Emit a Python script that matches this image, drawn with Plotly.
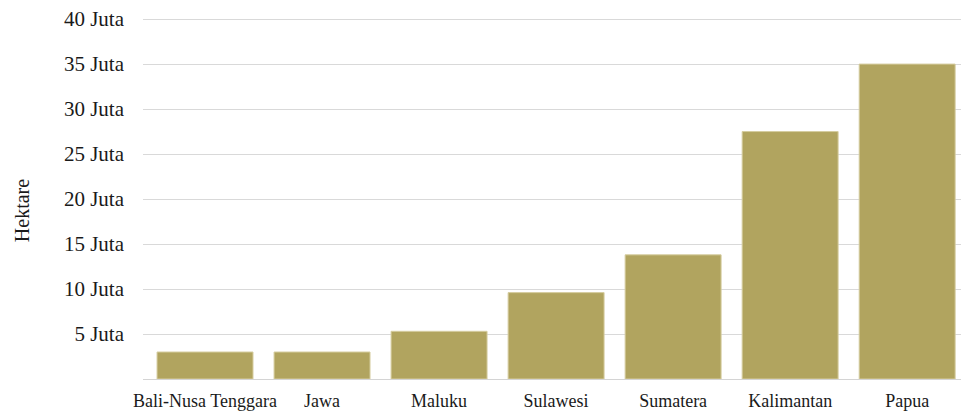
import plotly.graph_objects as go

categories = ["Bali-Nusa Tenggara", "Jawa", "Maluku", "Sulawesi", "Sumatera", "Kalimantan", "Papua"]
values_juta = [3.0, 3.0, 5.3, 9.6, 13.8, 27.5, 35.0]
tick_values = [5, 10, 15, 20, 25, 30, 35, 40]
tick_labels = ["5 Juta", "10 Juta", "15 Juta", "20 Juta", "25 Juta", "30 Juta", "35 Juta", "40 Juta"]
y_title = "Hektare"

FONT = "Liberation Serif, Times New Roman, serif"

fig = go.Figure(
    go.Bar(
        x=categories,
        y=values_juta,
        marker=dict(color="#B1A45F", line=dict(color="#D6CDA0", width=1)),
        hoverinfo="x+y",
    )
)

fig.update_layout(
    width=961,
    height=411,
    margin=dict(l=143, r=0, t=18, b=28),
    paper_bgcolor="white",
    plot_bgcolor="white",
    bargap=0.18,
    showlegend=False,
    font=dict(family=FONT, color="#1a1a1a"),
    annotations=[
        dict(
            text=y_title,
            xref="paper",
            yref="paper",
            x=-0.147,
            y=0.467,
            xanchor="center",
            yanchor="middle",
            textangle=-90,
            showarrow=False,
            font=dict(family=FONT, size=20, color="#1a1a1a"),
        )
    ],
)

fig.update_xaxes(
    range=[-0.53, 6.46],
    tickangle=0,
    tickfont=dict(family=FONT, size=18, color="#1a1a1a"),
    showline=True,
    linecolor="#D4D4D4",
    linewidth=1,
    showgrid=False,
    ticks="",
    ticklabelstandoff=5,
)

fig.update_yaxes(
    range=[0, 40.12],
    tickvals=tick_values,
    ticktext=tick_labels,
    tickfont=dict(family=FONT, size=21, color="#1a1a1a"),
    showgrid=True,
    gridcolor="#D9D9D9",
    gridwidth=1,
    zeroline=False,
    ticks="",
    ticklabelstandoff=18,
)

fig.write_html("out.html")
